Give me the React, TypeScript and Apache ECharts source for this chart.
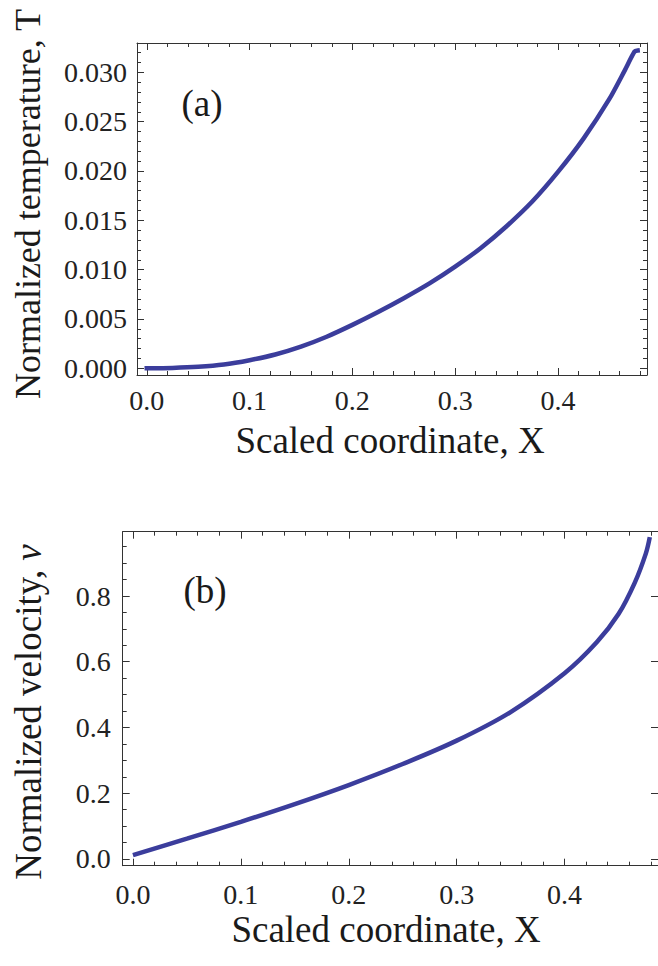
import React, { useEffect, useRef } from "react";
import * as echarts from "echarts";

// ---- Data ----
const xTemp = [0, 0.025, 0.05, 0.075, 0.1, 0.125, 0.15, 0.175, 0.2, 0.225, 0.25, 0.275, 0.3, 0.325, 0.35, 0.375, 0.4, 0.425, 0.45, 0.465, 0.4745, 0.4775];
const temp = [0, 0.00004, 0.00015, 0.00038, 0.00082, 0.0014, 0.0022, 0.0032, 0.0044, 0.0057, 0.0071, 0.0086, 0.0103, 0.0122, 0.0144, 0.0169, 0.0199, 0.0233, 0.0273, 0.0302, 0.0321, 0.0322];

const xVel = [0, 0.05, 0.1, 0.15, 0.2, 0.25, 0.3, 0.35, 0.4, 0.43, 0.45, 0.465, 0.4753, 0.479];
const vel = [0.012, 0.062, 0.113, 0.167, 0.225, 0.289, 0.36, 0.447, 0.565, 0.66, 0.745, 0.84, 0.929, 0.979];

const xMajor = [0, 0.1, 0.2, 0.3, 0.4];
const xMinor = [0.02, 0.04, 0.06, 0.08, 0.12, 0.14, 0.16, 0.18, 0.22, 0.24, 0.26, 0.28, 0.32, 0.34, 0.36, 0.38, 0.42, 0.44, 0.46, 0.48];
const tMajor = [0, 0.005, 0.01, 0.015, 0.02, 0.025, 0.03];
const tMinor = [0.001, 0.002, 0.003, 0.004, 0.006, 0.007, 0.008, 0.009, 0.011, 0.012, 0.013, 0.014, 0.016, 0.017, 0.018, 0.019, 0.021, 0.022, 0.023, 0.024, 0.026, 0.027, 0.028, 0.029, 0.031, 0.032];
const vMajor = [0, 0.2, 0.4, 0.6, 0.8];
const vMinor = [0.05, 0.1, 0.15, 0.25, 0.3, 0.35, 0.45, 0.5, 0.55, 0.65, 0.7, 0.75, 0.85, 0.9, 0.95];

const X_MIN = -0.0095;
const X_MAX = 0.4866;
const T_MIN = -0.00068;
const T_MAX = 0.03297;
const V_MIN = -0.0204;
const V_MAX = 0.9956;

const FONT = "Liberation Serif";
const LINE_COLOR = "#3b3d9c";
const FRAME = "#333333";

function xAxisSet(grid: number, major: number[], minor: number[], min: number, max: number, fmt: (v: number) => string, labelMargin: number) {
  const base = { type: "value", gridIndex: grid, min, max, splitLine: { show: false } };
  return [
    {
      ...base, position: "bottom",
      axisLine: { show: true, onZero: false, lineStyle: { color: FRAME, width: 1 } },
      axisTick: { show: true, inside: true, length: 7, customValues: major, lineStyle: { color: FRAME } },
      axisLabel: { show: true, customValues: major, formatter: fmt, fontFamily: FONT, fontSize: 28, color: "#222", margin: labelMargin },
    },
    {
      ...base, position: "bottom",
      axisLine: { show: false, onZero: false },
      axisTick: { show: true, inside: true, length: 4, customValues: minor, lineStyle: { color: FRAME } },
      axisLabel: { show: false },
    },
    {
      ...base, position: "top",
      axisLine: { show: true, onZero: false, lineStyle: { color: FRAME, width: 1 } },
      axisTick: { show: true, inside: true, length: 7, customValues: major, lineStyle: { color: FRAME } },
      axisLabel: { show: false },
    },
    {
      ...base, position: "top",
      axisLine: { show: false, onZero: false },
      axisTick: { show: true, inside: true, length: 4, customValues: minor, lineStyle: { color: FRAME } },
      axisLabel: { show: false },
    },
  ];
}

function yAxisSet(grid: number, major: number[], minor: number[], min: number, max: number, fmt: (v: number) => string, labelMargin: number, rightMinor: boolean) {
  const base = { type: "value", gridIndex: grid, min, max, splitLine: { show: false } };
  return [
    {
      ...base, position: "left",
      axisLine: { show: true, onZero: false, lineStyle: { color: FRAME, width: 1 } },
      axisTick: { show: true, inside: true, length: 7, customValues: major, lineStyle: { color: FRAME } },
      axisLabel: { show: true, customValues: major, formatter: fmt, fontFamily: FONT, fontSize: 28, color: "#222", margin: labelMargin },
    },
    {
      ...base, position: "left",
      axisLine: { show: false, onZero: false },
      axisTick: { show: true, inside: true, length: 4, customValues: minor, lineStyle: { color: FRAME } },
      axisLabel: { show: false },
    },
    {
      ...base, position: "right",
      axisLine: { show: true, onZero: false, lineStyle: { color: FRAME, width: 1 } },
      axisTick: { show: true, inside: true, length: 7, customValues: major, lineStyle: { color: FRAME } },
      axisLabel: { show: false },
    },
    {
      ...base, position: "right",
      axisLine: { show: false, onZero: false },
      axisTick: { show: rightMinor, inside: true, length: 4, customValues: minor, lineStyle: { color: FRAME } },
      axisLabel: { show: false },
    },
  ];
}

export default function App() {
  const ref = useRef<HTMLDivElement>(null);
  useEffect(() => {
    if (!ref.current) return;
    const chart = echarts.init(ref.current, undefined, { renderer: "svg" });
    const textStyle = (text: string, size: number) => ({ text, fontFamily: FONT, fontSize: size, fill: "#1a1a1a", textAlign: "center", textVerticalAlign: "middle" });
    chart.setOption({
      animation: false,
      backgroundColor: "#ffffff",
      grid: [
        { left: 137, top: 43, width: 510, height: 332 },
        { left: 122.7, top: 531.7, width: 536.5, height: 334 },
      ],
      xAxis: [
        ...xAxisSet(0, xMajor, xMinor, X_MIN, X_MAX, (v: number) => v.toFixed(1), 11),
        ...xAxisSet(1, xMajor, xMinor, X_MIN, X_MAX, (v: number) => v.toFixed(1), 15),
      ],
      yAxis: [
        ...yAxisSet(0, tMajor, tMinor, T_MIN, T_MAX, (v: number) => v.toFixed(3), 10, true),
        ...yAxisSet(1, vMajor, vMinor, V_MIN, V_MAX, (v: number) => v.toFixed(1), 12, false),
      ],
      series: [
        {
          type: "line", xAxisIndex: 0, yAxisIndex: 0,
          data: xTemp.map((x, i) => [x, temp[i]]),
          showSymbol: false, smooth: 0.25,
          lineStyle: { color: LINE_COLOR, width: 4.5, cap: "square" },
          clip: false,
        },
        {
          type: "line", xAxisIndex: 4, yAxisIndex: 4,
          data: xVel.map((x, i) => [x, vel[i]]),
          showSymbol: false, smooth: 0.35,
          lineStyle: { color: LINE_COLOR, width: 4.5 },
          clip: false,
        },
      ],
      graphic: [
        { type: "text", x: 390, y: 440, style: textStyle("Scaled coordinate, X", 37) },
        { type: "text", x: 386, y: 929, style: textStyle("Scaled coordinate, X", 37) },
        { type: "text", x: 28, y: 204, rotation: Math.PI / 2, style: textStyle("Normalized temperature, T", 36) },
        {
          type: "text", x: 28, y: 712, rotation: Math.PI / 2,
          style: { ...textStyle("Normalized velocity, {i|v}", 37), rich: { i: { fontStyle: "italic", fontFamily: FONT, fontSize: 37, fill: "#1a1a1a" } } },
        },
        { type: "text", x: 202, y: 103, style: textStyle("(a)", 37) },
        { type: "text", x: 205, y: 590, style: textStyle("(b)", 37) },
      ],
    });
    return () => chart.dispose();
  }, []);
  return <div ref={ref} style={{ position: "fixed", left: 0, top: 0, width: 658, height: 966 }} />;
}
